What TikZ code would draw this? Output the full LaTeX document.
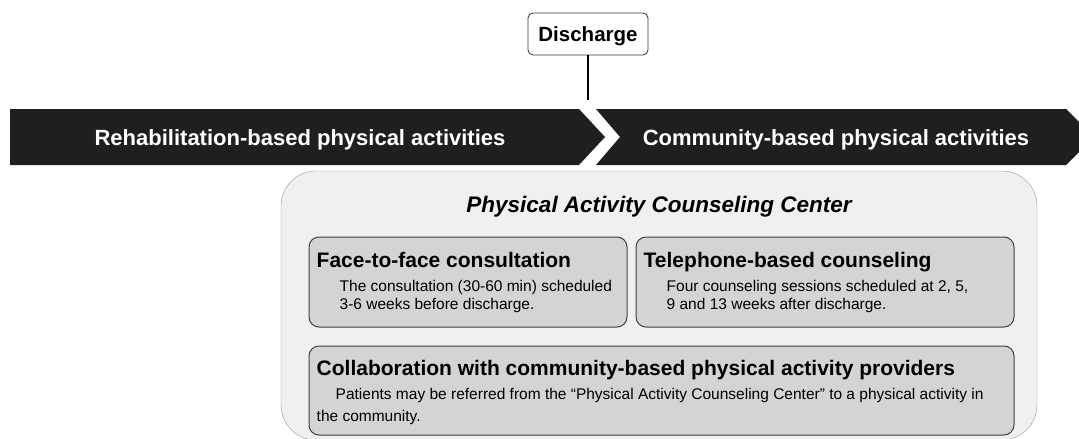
\documentclass[tikz,border=0pt]{standalone}
\usepackage{fontspec}
\setmainfont{Liberation Sans}
\usetikzlibrary{positioning, calc}

\begin{document}
\begin{tikzpicture}[
    x=1pt, y=-1pt,
    % --- styles ---
    phase bar/.style={fill=black!88},
    phase text/.style={text=white, anchor=base, font=\fontsize{22}{26}\selectfont\bfseries},
    event box/.style={draw=black!80, thick, rounded corners=5pt, fill=white, minimum width=120pt, minimum height=42pt, text depth=0pt, font=\fontsize{20.5}{24}\selectfont\bfseries},
    center box/.style={draw=black!40, fill=black!6, rounded corners=35pt},
    item box/.style={draw=black!75, line width=1pt, fill=black!17, rounded corners=10pt},
    item head/.style={anchor=base west, inner sep=0pt, font=\fontsize{21}{25}\selectfont\bfseries},
    item body/.style={anchor=north west, inner sep=0pt, align=left, font=\fontsize{15.5}{18}\selectfont}
]

    \useasboundingbox (0,0) rectangle (1079,439);

    % --- 1. Discharge marker ---
    \node[event box] (discharge) at (588,34) {Discharge};
    \coordinate (bar_top) at ($(discharge.south)+(0,45)$);
    \draw[line width=2.5pt] (discharge.south) -- (bar_top);

    % --- 2. Phase arrows ---
    \path[phase bar] (10,109) -- (579,109) -- (605,137) -- (579,165) -- (10,165) -- cycle;
    \path[phase bar] (596,109) -- (1066,109) -- (1094,137) -- (1066,165) -- (596,165) -- (620,137) -- cycle;
    \node[phase text] (rehab) at (300,145) {Rehabilitation-based physical activities};
    \node[phase text] (community) at (836,145) {Community-based physical activities};

    % --- 3. Counseling center ---
    \node[center box, minimum width=756pt, minimum height=269pt] (pacc) at (659,305.5) {};
    \node[anchor=base, font=\fontsize{22.5}{27}\selectfont\bfseries\itshape] (pacc_title)
        at ($(pacc.north)+(0,42)$) {Physical Activity Counseling Center};

    % --- 4. Services ---
    % face-to-face
    \node[item box, minimum width=318pt, minimum height=90pt] (face) at (468,282) {};
    \node[item head] (face_head) at ($(face.north west)+(8,31)$) {Face-to-face consultation};
    \node[item body] (face_body) at ($(face.north west)+(31,44)$)
        {The consultation (30-60 min) scheduled\\3-6 weeks before discharge.};

    % telephone
    \node[item box, minimum width=378pt, minimum height=90pt] (phone) at (825,282) {};
    \node[item head] (phone_head) at ($(phone.north west)+(8,31)$) {Telephone-based counseling};
    \node[item body] (phone_body) at ($(phone.north west)+(31,44)$)
        {Four counseling sessions scheduled at 2, 5,\\9 and 13 weeks after discharge.};

    % collaboration
    \node[item box, minimum width=705pt, minimum height=89pt] (collab) at (661.5,390.5) {};
    \node[item head] (collab_head) at ($(collab.north west)+(8,30)$)
        {Collaboration with community-based physical activity providers};
    \node[item body, font=\fontsize{15.5}{21.5}\selectfont] (collab_body) at ($(collab.north west)+(8,43)$)
        {\hspace*{19pt}Patients may be referred from the “Physical Activity Counseling Center” to a physical activity in\\the community.};

\end{tikzpicture}
\end{document}
